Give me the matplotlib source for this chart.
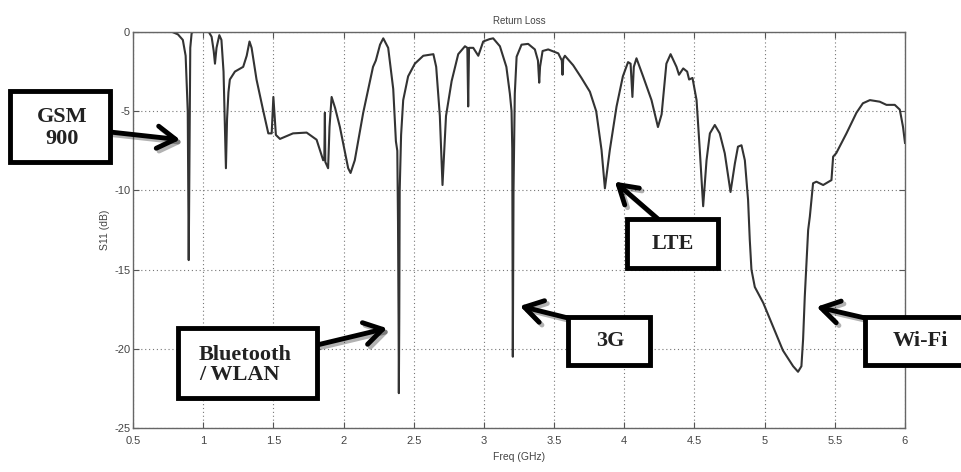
import matplotlib
matplotlib.use("Agg")
import matplotlib.pyplot as plt
from matplotlib.patches import Rectangle
from matplotlib.transforms import IdentityTransform
import matplotlib.patheffects as pe

# Measured S11 of the antenna (GHz, dB)
freq = [0.50, 0.78, 0.82, 0.855, 0.875, 0.89, 0.897, 0.902, 0.908, 0.918, 0.93,
        1.04, 1.06, 1.075, 1.084, 1.095, 1.115, 1.13, 1.145, 1.155, 1.162, 1.17,
        1.18, 1.19, 1.226, 1.285, 1.31, 1.33, 1.345, 1.38, 1.426, 1.464, 1.488,
        1.50, 1.518, 1.547, 1.60, 1.64, 1.737, 1.808, 1.855, 1.863, 1.867, 1.870,
        1.88, 1.89, 1.90, 1.915, 1.94, 1.974, 2.033, 2.05, 2.08, 2.14, 2.21, 2.23,
        2.26, 2.283, 2.318, 2.354, 2.373, 2.383, 2.388, 2.392, 2.394, 2.397, 2.400,
        2.41, 2.425, 2.46, 2.508, 2.568, 2.64, 2.66, 2.686, 2.705, 2.73, 2.77,
        2.817, 2.865, 2.882, 2.888, 2.894, 2.924, 2.96, 2.995, 3.04, 3.066, 3.114,
        3.16, 3.185, 3.197, 3.202, 3.206, 3.211, 3.22, 3.233, 3.268, 3.315, 3.363,
        3.385, 3.394, 3.40, 3.418, 3.458, 3.53, 3.555, 3.56, 3.565, 3.577, 3.636,
        3.695, 3.755, 3.80, 3.838, 3.862, 3.897, 3.945, 3.99, 4.027, 4.045, 4.058,
        4.068, 4.087, 4.134, 4.194, 4.24, 4.266, 4.30, 4.33, 4.372, 4.39, 4.42,
        4.448, 4.462, 4.486, 4.515, 4.538, 4.562, 4.586, 4.61, 4.645, 4.68, 4.716,
        4.757, 4.788, 4.81, 4.835, 4.859, 4.882, 4.894, 4.906, 4.93, 4.99, 5.06,
        5.13, 5.203, 5.238, 5.262, 5.274, 5.286, 5.298, 5.31, 5.322, 5.345, 5.369,
        5.417, 5.476, 5.488, 5.51, 5.583, 5.654, 5.70, 5.75, 5.82, 5.868, 5.927,
        5.963, 5.986, 6.0]
s11 = [0.0, 0.0, -0.15, -0.5, -1.5, -5.0, -14.4, -8.0, -1.0, -0.05, 0.0,
       0.0, -0.3, -1.2, -2.0, -1.0, -0.2, -0.5, -2.5, -6.0, -8.6, -5.5,
       -3.8, -3.0, -2.5, -2.2, -1.5, -0.6, -1.0, -3.0, -4.9, -6.4, -6.4,
       -4.1, -6.5, -6.75, -6.55, -6.4, -6.35, -6.8, -8.1, -8.0, -5.1, -8.2,
       -8.4, -8.6, -6.0, -4.1, -4.8, -6.0, -8.6, -8.9, -8.1, -5.1, -2.2, -1.8,
       -0.8, -0.4, -1.0, -3.6, -6.9, -7.5, -12.0, -18.2, -22.8, -18.0, -10.0,
       -6.5, -4.3, -2.8, -2.0, -1.5, -1.4, -2.2, -5.3, -9.66, -5.3, -3.1,
       -1.4, -0.9, -1.0, -4.7, -1.0, -1.0, -1.5, -0.6, -0.45, -0.4, -0.9,
       -2.2, -3.9, -5.0, -7.4, -20.5, -10.0, -3.9, -1.56, -0.8, -0.75, -1.1,
       -1.8, -3.2, -2.2, -1.2, -1.1, -1.35, -1.8, -2.7, -1.7, -1.5, -2.1,
       -2.9, -3.77, -5.0, -7.45, -9.87, -7.45, -4.7, -2.8, -1.9, -2.0, -4.1,
       -2.2, -1.66, -2.8, -4.3, -6.0, -5.2, -2.0, -1.4, -2.2, -2.7, -2.3,
       -2.5, -3.0, -2.9, -4.3, -7.45, -11.0, -8.1, -6.4, -5.87, -6.4, -7.66,
       -10.1, -8.3, -7.24, -7.15, -8.1, -10.6, -13.1, -15.0, -16.1, -17.1, -18.6,
       -20.1, -21.1, -21.45, -21.1, -19.4, -16.7, -14.6, -12.5, -11.66, -9.55, -9.45,
       -9.66, -9.35, -7.87, -7.65, -6.4, -5.1, -4.5, -4.3, -4.4, -4.6, -4.6,
       -4.9, -6.0, -7.0]

x_ticks = [0.5, 1, 1.5, 2, 2.5, 3, 3.5, 4, 4.5, 5, 5.5, 6]
x_labels = ["0.5", "1", "1.5", "2", "2.5", "3", "3.5", "4", "4.5", "5", "5.5", "6"]
y_ticks = [0, -5, -10, -15, -20, -25]
y_labels = ["0", "-5", "-10", "-15", "-20", "-25"]

# Band callouts: label, box (left, top, right, bottom in pixels), arrow start, arrow tip (data)
bands = ["GSM\n900", "Bluetooth\n/ WLAN", "3G", "LTE", "Wi-Fi"]
band_boxes = [(10, 91, 110, 162), (178, 328, 317, 398), (568, 317, 650, 365),
              (627, 219, 718, 268), (865, 317, 975, 365)]
band_tails = [(110, 132), (317, 345), (568, 318), (658, 219), (865, 318)]
band_tips = [(0.835, -6.8), (2.31, -18.7), (3.256, -17.3), (3.933, -9.45), (5.37, -17.35)]
band_text_x = [62, 199, 610, 673, 920]
band_text_y = [128, 365, 341, 244, 341]
band_align = ["center", "left", "center", "center", "center"]
band_spacing = [1.15, 1.05, 1.0, 1.0, 1.0]

W, H = 961, 472
fig = plt.figure(figsize=(W / 100, H / 100), dpi=100)
ax = fig.add_axes([133 / W, (H - 428) / H, (905 - 133) / W, (428 - 32) / H])

ax.plot(freq, s11, color="#333333", lw=1.5, solid_joinstyle="round")

tick_font = ["Liberation Sans Narrow", "Liberation Sans", "DejaVu Sans"]
ax.set_xlim(0.5, 6)
ax.set_ylim(-25, 0)
ax.set_xticks(x_ticks)
ax.set_xticklabels(x_labels, family=tick_font, fontsize=8, color="#444444")
ax.set_yticks(y_ticks)
ax.set_yticklabels(y_labels, family=tick_font, fontsize=8, color="#444444")
ax.tick_params(direction="in", length=4, width=0.8, color="#555555",
               top=True, right=True, pad=2)
ax.tick_params(axis="x", pad=6)
ax.grid(True, color="#777777", linestyle=(0, (1, 2.5)), linewidth=0.8)
for sp in ax.spines.values():
    sp.set_color("#666666")
    sp.set_linewidth(1.0)

ax.set_title("Return Loss", family=tick_font, fontsize=7, color="#444444", pad=6)
ax.set_xlabel("Freq (GHz)", family=tick_font, fontsize=7.5, color="#444444", labelpad=4)
ax.set_ylabel("S11 (dB)", family=tick_font, fontsize=7.5, color="#444444", labelpad=3)

shadow = [pe.SimplePatchShadow(offset=(2.5, -2.5), alpha=0.25), pe.Normal()]
ident = IdentityTransform()
for label, (l, t, r, b), (tx, ty), tip, cx, cy, ha, ls in zip(
        bands, band_boxes, band_tails, band_tips, band_text_x, band_text_y,
        band_align, band_spacing):
    rect = Rectangle((l, H - b), r - l, b - t, transform=ident, facecolor="white",
                     edgecolor="black", lw=3.5, zorder=5, clip_on=False,
                     path_effects=shadow)
    fig.add_artist(rect)
    fig.text(cx / W, 1 - cy / H, label, ha=ha, va="center",
             multialignment="left" if ha == "left" else "center",
             family=["Liberation Serif", "DejaVu Serif"], fontweight="bold",
             fontsize=16, color="#222222", linespacing=ls, zorder=6)
    ax.annotate("", xy=tip, xycoords="data", xytext=(tx, H - ty),
                textcoords="figure pixels",
                arrowprops=dict(arrowstyle="->,head_length=1.3,head_width=0.8",
                                lw=3.5, color="black", shrinkA=0, shrinkB=0,
                                path_effects=[pe.SimpleLineShadow(offset=(2, -2), alpha=0.3),
                                              pe.Normal()]),
                annotation_clip=False, zorder=6)

fig.savefig("out.png", dpi=100)
